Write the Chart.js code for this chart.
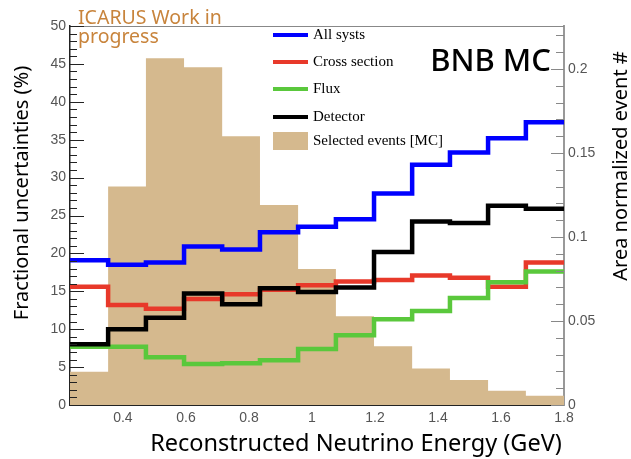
<!DOCTYPE html>
<html>
<head>
<meta charset="utf-8">
<script src="https://cdn.jsdelivr.net/npm/chart.js@4"></script>
<style>
  body { margin: 0; background: #fff; }
</style>
</head>
<body>
<canvas id="myChart" width="631" height="459"></canvas>
<script>
// bin edges (GeV) and per-bin values
const binEdges = [0.232, 0.353, 0.473, 0.594, 0.715, 0.835, 0.956, 1.076, 1.197, 1.318, 1.438, 1.559, 1.679, 1.8];
const allSysts = [19.1, 18.5, 18.8, 20.9, 20.5, 22.8, 23.5, 24.5, 27.9, 31.7, 33.3, 35.2, 37.3];
const crossSection = [15.6, 13.2, 12.7, 14.0, 14.6, 15.2, 15.8, 16.3, 16.5, 17.1, 16.8, 15.6, 18.8];
const flux = [7.7, 7.7, 6.3, 5.4, 5.5, 5.9, 7.4, 9.2, 11.3, 12.4, 14.1, 16.2, 17.6];
const detector = [8.0, 10.0, 11.5, 14.7, 13.3, 15.4, 14.9, 15.5, 20.2, 24.2, 24.0, 26.3, 25.9];
const selectedEvents = [0.0198, 0.130, 0.2064, 0.201, 0.160, 0.119, 0.081, 0.0528, 0.035, 0.0218, 0.0149, 0.0085, 0.0055];

const xTicks = [0.4, 0.6, 0.8, 1, 1.2, 1.4, 1.6, 1.8];
const leftTicks = [0, 5, 10, 15, 20, 25, 30, 35, 40, 45, 50];
const rightTicks = [0, 0.05, 0.1, 0.15, 0.2];
const rightMax = 0.2256;

const titleFont = '"Noto Sans", sans-serif';
const tickFont = { family: '"Liberation Sans", Arial, sans-serif', size: 14 };
const tickColor = '#555';

// histogram as a step line: one point per left edge, plus closing point
function steps(vals) {
    const pts = vals.map((v, i) => ({ x: binEdges[i], y: v }));
    pts.push({ x: binEdges[binEdges.length - 1], y: vals[vals.length - 1] });
    return pts;
}

function lineSet(label, vals, color, order) {
    return {
        label: label,
        data: steps(vals),
        borderColor: color,
        backgroundColor: color,
        borderWidth: 4.5,
        stepped: true,
        pointRadius: 0,
        fill: false,
        yAxisID: 'y',
        order: order
    };
}

const overlay = {
    id: 'overlay',
    afterDraw(chart) {
        const c = chart.ctx;
        const a = chart.chartArea;
        const yl = chart.scales.y;
        const yr = chart.scales.y1;
        c.save();

        // frame top line
        c.strokeStyle = '#888';
        c.lineWidth = 1;
        c.beginPath();
        c.moveTo(a.left, a.top + 0.5);
        c.lineTo(a.right, a.top + 0.5);
        c.stroke();

        // left axis ticks (inside)
        c.strokeStyle = '#222';
        c.lineWidth = 1;
        for (let v = 0; v <= 50; v++) {
            const py = Math.round(yl.getPixelForValue(v)) + 0.5;
            const len = v % 5 === 0 ? 14 : 7;
            c.beginPath();
            c.moveTo(a.left, py);
            c.lineTo(a.left + len, py);
            c.stroke();
        }
        // right axis ticks (inside)
        c.strokeStyle = '#888';
        for (let i = 0; i <= 22; i++) {
            const v = i / 100;
            const py = Math.round(yr.getPixelForValue(v)) + 0.5;
            const len = i % 5 === 0 ? 13 : 8;
            c.beginPath();
            c.moveTo(a.right, py);
            c.lineTo(a.right - len, py);
            c.stroke();
        }

        // axis titles
        c.fillStyle = '#000';
        c.textAlign = 'center';
        c.textBaseline = 'middle';
        c.font = '20px ' + titleFont;
        c.save();
        c.translate(22, 193);
        c.rotate(-Math.PI / 2);
        c.fillText('Fractional uncertainties (%)', 0, 0);
        c.restore();
        c.save();
        c.translate(621, 166);
        c.rotate(-Math.PI / 2);
        c.fillText('Area normalized event #', 0, 0);
        c.restore();
        c.font = '23.5px ' + titleFont;
        c.fillText('Reconstructed Neutrino Energy (GeV)', 356, 444);

        // labels
        c.textAlign = 'left';
        c.fillStyle = '#c8843c';
        c.font = '19.5px ' + titleFont;
        c.fillText('ICARUS Work in', 78, 18);
        c.fillText('progress', 78, 37);
        c.fillStyle = '#000';
        c.textAlign = 'right';
        c.font = '500 31px ' + titleFont;
        c.fillText('BNB MC', 551, 62);

        // legend
        const rows = [35, 62, 89, 117, 141];
        const ds = chart.data.datasets;
        c.textAlign = 'left';
        c.font = '15px "Liberation Serif", "Times New Roman", serif';
        ds.forEach((d, i) => {
            const y = rows[i];
            if (d.fill) {
                c.fillStyle = d.backgroundColor;
                c.fillRect(273, y - 9, 35, 18);
            } else {
                c.strokeStyle = d.borderColor;
                c.lineWidth = 4;
                c.beginPath();
                c.moveTo(273, y);
                c.lineTo(308, y);
                c.stroke();
            }
            c.fillStyle = '#000';
            c.fillText(d.label, 313, y);
        });
        c.restore();
    }
};

const ctx = document.getElementById('myChart');
new Chart(ctx, {
    type: 'line',
    data: {
        datasets: [
            lineSet('All systs', allSysts, '#0000ff', 4),
            lineSet('Cross section', crossSection, '#e8392a', 3),
            lineSet('Flux', flux, '#5ac83c', 2),
            lineSet('Detector', detector, '#000000', 1),
            {
                label: 'Selected events [MC]',
                data: steps(selectedEvents),
                borderWidth: 0,
                borderColor: '#d5b98e',
                backgroundColor: '#d5b98e',
                stepped: true,
                pointRadius: 0,
                fill: 'origin',
                yAxisID: 'y1',
                order: 10
            }
        ]
    },
    options: {
        responsive: false,
        animation: false,
        layout: { padding: { top: 26, left: 0, right: 0, bottom: 0 } },
        plugins: { legend: { display: false }, tooltip: { enabled: false } },
        scales: {
            x: {
                type: 'linear',
                min: binEdges[0],
                max: binEdges[binEdges.length - 1],
                afterBuildTicks: s => { s.ticks = xTicks.map(v => ({ value: v })); },
                afterFit: s => { s.height = 54; },
                ticks: { font: tickFont, color: tickColor, padding: 5, maxRotation: 0, autoSkip: false, callback: v => String(v) },
                grid: { display: false, drawTicks: false },
                border: { color: '#222', width: 2 }
            },
            y: {
                position: 'left',
                min: 0,
                max: 50,
                afterBuildTicks: s => { s.ticks = leftTicks.map(v => ({ value: v })); },
                afterFit: s => { s.width = 70; },
                ticks: { font: tickFont, color: tickColor, padding: 4, callback: v => String(v) },
                grid: { display: false, drawTicks: false },
                border: { color: '#222', width: 1.5 }
            },
            y1: {
                position: 'right',
                min: 0,
                max: rightMax,
                afterBuildTicks: s => { s.ticks = rightTicks.map(v => ({ value: v })); },
                afterFit: s => { s.width = 67; },
                ticks: { font: tickFont, color: tickColor, padding: 4, callback: v => String(v) },
                grid: { display: false, drawTicks: false },
                border: { color: '#999', width: 2 }
            }
        }
    },
    plugins: [overlay]
});
</script>
</body>
</html>
